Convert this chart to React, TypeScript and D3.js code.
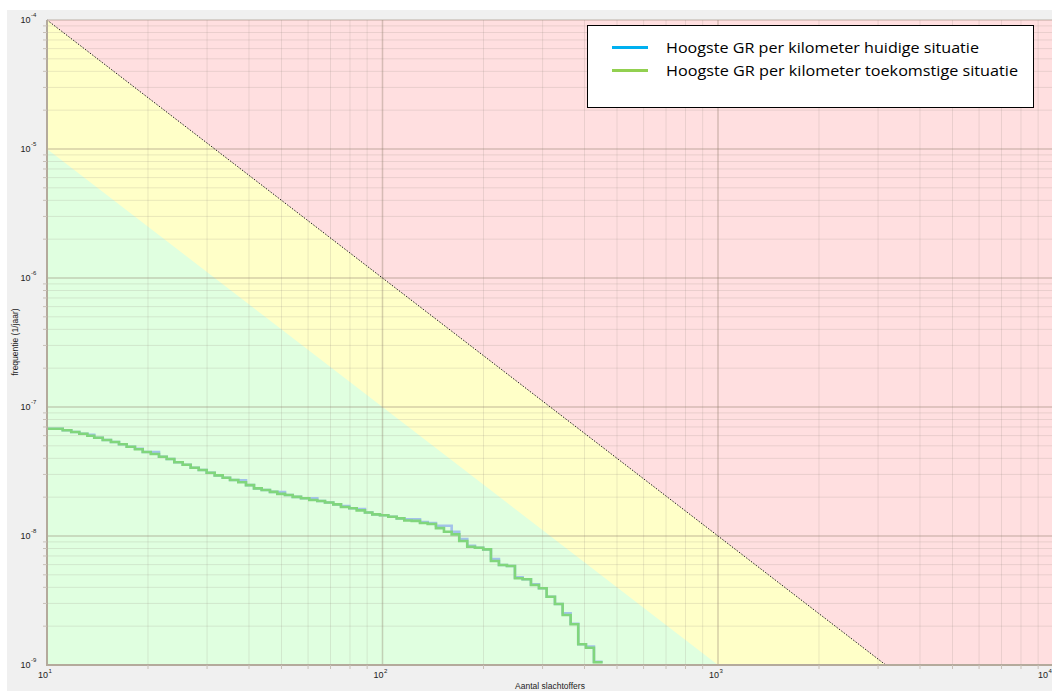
import React from "react";
import * as d3 from "d3";

// FN-curve: number of victims (N) vs. frequency (1/jaar)
const stepStartN = [
  10, 11.14, 11.81, 12.48, 13.19, 13.83, 14.66, 15.51, 16.39, 17.28, 18.29, 19.29, 20.38, 21.57, 22.74,
  23.96, 25.38, 26.81, 28.33, 29.92, 31.61, 33.4, 35.12, 37.17, 39.19, 41.4, 43.64, 46.19, 48.58, 51.22,
  54.0, 57.16, 60.51, 63.92, 67.39, 71.34, 75.21, 79.62, 83.77, 88.67, 93.24, 98.3, 104.06, 110.25,
  116.15, 122.2, 129.36, 136.38, 144.31, 152.48, 160.74, 169.34, 178.9, 188.61, 199.65, 210.48, 222.36,
  234.9, 248.15, 261.61, 277.0, 292.62, 308.49, 326.57, 344.3, 363.75, 383.23, 404.02, 426.8,
];
const lastN = 453;

const freqToekomstig = [
  6.79e-8, 6.6e-8, 6.4e-8, 6.21e-8, 5.99e-8, 5.78e-8, 5.55e-8, 5.35e-8, 5.14e-8, 4.92e-8,
  4.7e-8, 4.48e-8, 4.32e-8, 4.12e-8, 3.95e-8, 3.73e-8, 3.57e-8, 3.38e-8, 3.25e-8, 3.09e-8,
  2.95e-8, 2.83e-8, 2.72e-8, 2.61e-8, 2.48e-8, 2.34e-8, 2.27e-8, 2.2e-8, 2.12e-8, 2.08e-8,
  2.01e-8, 1.96e-8, 1.9e-8, 1.87e-8, 1.82e-8, 1.76e-8, 1.68e-8, 1.64e-8, 1.58e-8, 1.52e-8,
  1.47e-8, 1.45e-8, 1.41e-8, 1.37e-8, 1.32e-8, 1.31e-8, 1.26e-8, 1.24e-8, 1.15e-8, 1.08e-8,
  1.03e-8, 9.15e-9, 8.26e-9, 8.11e-9, 7.88e-9, 6.4e-9, 5.96e-9, 5.85e-9, 4.7e-9, 4.62e-9,
  4.17e-9, 3.93e-9, 3.38e-9, 2.97e-9, 2.44e-9, 2.07e-9, 1.45e-9, 1.36e-9, 1.05e-9,
];

const freqHuidig = [
  6.79e-8, 6.6e-8, 6.4e-8, 6.21e-8, 6.1e-8, 5.78e-8, 5.55e-8, 5.35e-8, 5.14e-8, 4.92e-8,
  4.75e-8, 4.48e-8, 4.48e-8, 4.12e-8, 3.95e-8, 3.73e-8, 3.57e-8, 3.38e-8, 3.25e-8, 3.09e-8,
  2.95e-8, 2.83e-8, 2.72e-8, 2.7e-8, 2.48e-8, 2.34e-8, 2.27e-8, 2.2e-8, 2.19e-8, 2.08e-8,
  2.01e-8, 1.96e-8, 1.96e-8, 1.87e-8, 1.82e-8, 1.76e-8, 1.71e-8, 1.64e-8, 1.62e-8, 1.52e-8,
  1.47e-8, 1.45e-8, 1.41e-8, 1.37e-8, 1.35e-8, 1.35e-8, 1.28e-8, 1.26e-8, 1.2e-8, 1.2e-8,
  1.08e-8, 9.48e-9, 8.41e-9, 8.11e-9, 7.88e-9, 6.63e-9, 5.96e-9, 5.85e-9, 4.78e-9, 4.62e-9,
  4.22e-9, 3.93e-9, 3.38e-9, 2.97e-9, 2.52e-9, 2.09e-9, 1.45e-9, 1.39e-9, 1.06e-9,
];

// norm lines F = C / N^2
const upperNorm = [
  [10, 1e-4],
  [3162.3, 1e-9],
];
const lowerNorm = [
  [10, 1e-5],
  [1000, 1e-9],
];

const xTickExps = [1, 2, 3, 4];
const yTickExps = [-4, -5, -6, -7, -8, -9];

const legendLabels = [
  "Hoogste GR per kilometer huidige situatie",
  "Hoogste GR per kilometer toekomstige situatie",
];
const legendColors = ["#00b0f0", "#92d050"];
const legendWidths = [313, 352];

const W = 1052;
const H = 691;

export default function App() {
  const x = d3.scaleLog().domain([10, 10000]).range([47, 1053.5]);
  const y = d3.scaleLog().domain([1e-9, 1e-4]).range([665, 20]);
  const [x0, x1] = x.range();
  const [y0, y1] = y.range();

  const isMajor = (v: number) => Math.abs(Math.log10(v) - Math.round(Math.log10(v))) < 1e-6;
  const xTicks = x.ticks();
  const yTicks = y.ticks();

  const stepLine = d3
    .line<[number, number]>()
    .x((d) => x(d[0]))
    .y((d) => y(d[1]))
    .curve(d3.curveStepAfter);

  const toPts = (f: number[]) => {
    const pts: [number, number][] = stepStartN.map((n, i) => [n, f[i]]);
    pts.push([lastN, f[f.length - 1]]);
    return pts;
  };

  const yellowPoly = [
    [x(upperNorm[0][0]), y(upperNorm[0][1])],
    [x(upperNorm[1][0]), y(upperNorm[1][1])],
    [x0, y0],
  ];
  const greenPoly = [
    [x(lowerNorm[0][0]), y(lowerNorm[0][1])],
    [x(lowerNorm[1][0]), y(lowerNorm[1][1])],
    [x0, y0],
  ];
  const poly = (p: number[][]) => "M" + p.map((q) => q.join(",")).join("L") + "Z";

  const axisFont = "'Liberation Sans', Arial, sans-serif";
  const majorStroke = "rgba(140,125,105,0.36)";
  const minorStroke = "rgba(150,140,130,0.2)";

  return (
    <svg
      width={W}
      height={H}
      style={{ position: "absolute", left: 0, top: 0, display: "block", background: "#fff" }}
    >
      <rect x={7} y={10} width={W - 7} height={H - 10} fill="#f0f0f0" />

      {/* risk zones */}
      <rect x={x0} y={y1} width={x1 - x0} height={y0 - y1} fill="#ffdfe0" />
      <path d={poly(yellowPoly)} fill="#ffffc8" />
      <path d={poly(greenPoly)} fill="#e0ffe0" />

      {/* grid */}
      {xTicks.map((v, i) => (
        <line
          key={"gx" + i}
          x1={x(v)}
          x2={x(v)}
          y1={y1}
          y2={y0}
          stroke={isMajor(v) ? majorStroke : minorStroke}
          strokeWidth={isMajor(v) ? 1.5 : 1}
        />
      ))}
      {yTicks.map((v, i) => (
        <line
          key={"gy" + i}
          x1={x0}
          x2={x1}
          y1={y(v)}
          y2={y(v)}
          stroke={isMajor(v) ? majorStroke : minorStroke}
          strokeWidth={isMajor(v) ? 1.5 : 1}
        />
      ))}

      {/* upper norm line (dotted) */}
      <line
        x1={x(upperNorm[0][0])}
        y1={y(upperNorm[0][1])}
        x2={x(upperNorm[1][0])}
        y2={y(upperNorm[1][1])}
        stroke="#222"
        strokeWidth={1}
        strokeDasharray="1.5 1.5"
      />

      {/* FN curves */}
      <path d={stepLine(toPts(freqHuidig)) || ""} fill="none" stroke="#a3c2ea" strokeWidth={2.6} />
      <path
        d={stepLine(toPts(freqToekomstig)) || ""}
        fill="none"
        stroke="#80d67c"
        strokeWidth={2.6}
      />

      {/* axes */}
      <line x1={x0} x2={x0} y1={y1} y2={y0 + 1} stroke="#b4aa9c" strokeWidth={2} />
      <line x1={x0} x2={W} y1={y0} y2={y0} stroke="#b4aa9c" strokeWidth={2} />
      {xTicks
        .filter((v) => !isMajor(v))
        .map((v, i) => (
          <line key={"tx" + i} x1={x(v)} x2={x(v)} y1={y0} y2={y0 + 4} stroke="#c8c0b8" />
        ))}
      {yTicks
        .filter((v) => !isMajor(v))
        .map((v, i) => (
          <line key={"ty" + i} x1={x0 - 4} x2={x0} y1={y(v)} y2={y(v)} stroke="#c8c0b8" />
        ))}

      {/* tick labels */}
      {xTickExps.map((e) => {
        const px = Math.min(x(Math.pow(10, e)), W - 5);
        return (
          <g key={"lx" + e} fontFamily={axisFont} fill="#222">
            <text x={px + 1} y={678} fontSize={9} textAnchor="end">
              10
            </text>
            <text x={px + 1.5} y={673} fontSize={6}>
              {e}
            </text>
          </g>
        );
      })}
      {yTickExps.map((e) => {
        const py = y(Math.pow(10, e));
        return (
          <g key={"ly" + e} fontFamily={axisFont} fill="#222">
            <text x={30.5} y={py + 3} fontSize={9} textAnchor="end">
              10
            </text>
            <text x={31} y={py - 3} fontSize={6}>
              {"-" + Math.abs(e)}
            </text>
          </g>
        );
      })}

      {/* axis titles */}
      <text
        transform="translate(18,342) rotate(-90)"
        textAnchor="middle"
        fontFamily={axisFont}
        fontSize={8.5}
        fill="#222"
      >
        frequentie (1/jaar)
      </text>
      <text x={550} y={689} textAnchor="middle" fontFamily={axisFont} fontSize={8.5} fill="#222">
        Aantal slachtoffers
      </text>

      {/* legend */}
      <rect x={587.5} y={25.5} width={446} height={82} fill="#fff" stroke="#000" strokeWidth={1} />
      {legendLabels.map((lab, i) => (
        <g key={"lg" + i}>
          <line
            x1={612}
            x2={648}
            y1={47.5 + i * 23}
            y2={47.5 + i * 23}
            stroke={legendColors[i]}
            strokeWidth={3}
          />
          <text
            x={666}
            y={52.5 + i * 23}
            fontFamily="'Open Sans', Lato, sans-serif"
            fontSize={14.5}
            fill="#000"
            textLength={legendWidths[i]}
            lengthAdjust="spacingAndGlyphs"
          >
            {lab}
          </text>
        </g>
      ))}
    </svg>
  );
}
